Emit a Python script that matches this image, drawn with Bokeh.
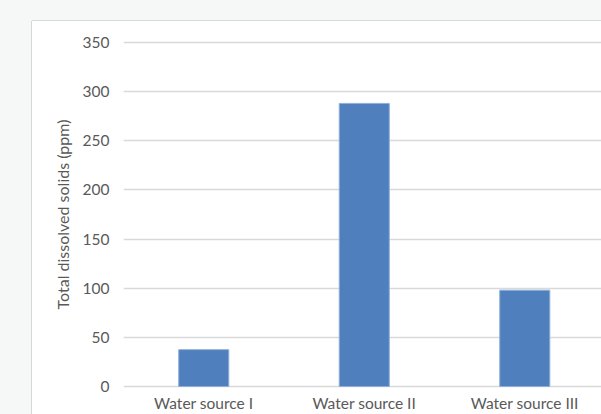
from bokeh.plotting import figure
from bokeh.layouts import column, row
from bokeh.models import Range1d, Spacer, FixedTicker, ColumnDataSource
from bokeh.embed import file_html
from bokeh.resources import INLINE

categories = ["Water source I", "Water source II", "Water source III"]
values = [37.5, 288, 98]
y_ticks = [0, 50, 100, 150, 200, 250, 300, 350]

positions = list(range(1, len(categories) + 1))
src = ColumnDataSource(dict(x=positions, top=values))

BG = "#f6f7f7"
EDGE = "#d6d8d8"
TXT = "#595959"
FONT = "Lato"

p = figure(width=569, height=393, output_backend="svg", toolbar_location=None,
           x_range=Range1d(0.5, 3.478), y_range=Range1d(-2.03, 352.0),
           min_border_left=91, min_border_right=0, min_border_top=19, min_border_bottom=24,
           background_fill_color="white", border_fill_color="white")
p.outline_line_color = None

p.vbar(x="x", top="top", width=0.312, source=src, fill_color="#4f7fbd",
       line_color="#8fb0da", line_width=1)

p.xaxis.ticker = FixedTicker(ticks=positions)
p.xaxis.major_label_overrides = {pos: c for pos, c in zip(positions, categories)}
p.xaxis.axis_line_color = None
p.xaxis.major_tick_line_color = None
p.xaxis.minor_tick_line_color = None
p.xaxis.major_tick_out = 0
p.xaxis.major_label_standoff = 5
p.xaxis.major_label_text_font = FONT
p.xaxis.major_label_text_font_size = "15.5px"
p.xaxis.major_label_text_color = TXT

p.yaxis.ticker = FixedTicker(ticks=y_ticks)
p.yaxis.axis_line_color = None
p.yaxis.major_tick_line_color = None
p.yaxis.minor_tick_line_color = None
p.yaxis.major_tick_out = 0
p.yaxis.major_label_standoff = 14
p.yaxis.major_label_text_font = FONT
p.yaxis.major_label_text_font_size = "15.5px"
p.yaxis.major_label_text_color = TXT
p.yaxis.axis_label = "Total dissolved solids (ppm)"
p.yaxis.axis_label_text_font = FONT
p.yaxis.axis_label_text_font_size = "16px"
p.yaxis.axis_label_text_font_style = "normal"
p.yaxis.axis_label_text_color = TXT
p.yaxis.axis_label_standoff = 8

p.xgrid.grid_line_color = None
p.ygrid.ticker = FixedTicker(ticks=y_ticks)
p.ygrid.grid_line_color = "#d9d9d9"
p.ygrid.grid_line_width = 1.5

corner = Spacer(width=32, height=21, styles={"background-color": BG})
top = Spacer(width=569, height=21, styles={"background-color": BG, "box-sizing": "border-box",
                                           "border-bottom": f"1.5px solid {EDGE}"})
left = Spacer(width=32, height=393, styles={"background-color": BG, "box-sizing": "border-box",
                                            "border-right": f"1.5px solid {EDGE}"})
layout = column(row(corner, top), row(left, p))

open("out.html", "w").write(file_html(layout, INLINE))
